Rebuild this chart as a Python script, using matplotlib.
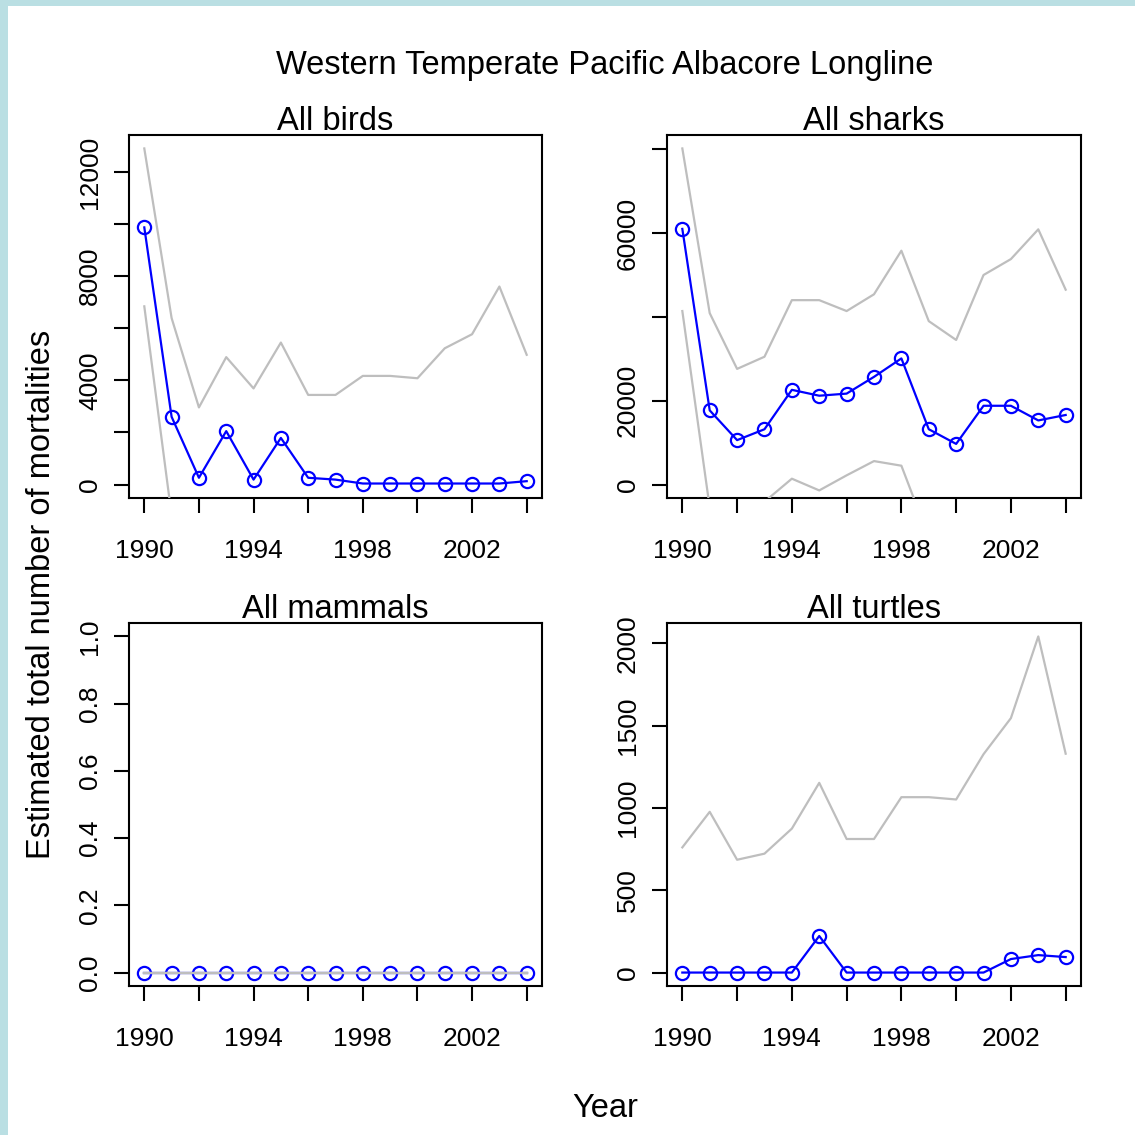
import numpy as np
import matplotlib
matplotlib.use("Agg")
import matplotlib.pyplot as plt
from matplotlib.patches import Rectangle

plt.rcParams['font.family'] = ['Liberation Sans', 'DejaVu Sans']

# ---- data ---------------------------------------------------------------
years = list(range(1990, 2005))

birds_est = [9870, 2600, 260, 2050, 190, 1790, 260, 190, 40, 40, 40, 40, 40, 40, 130]
birds_upper = [12900, 6390, 2960, 4890, 3690, 5450, 3440, 3440, 4170, 4170, 4080, 5230, 5770, 7600, 4980]
birds_lower = [6840, -1190, -2440, -790, -3310, -1870, -2920, -3060, -4090, -4090, -4000, -5150, -5690, -7520, -4720]

sharks_est = [61000, 17700, 10600, 13200, 22600, 21200, 21700, 25700, 30100, 13200, 9700, 18800, 18800, 15300, 16600]
sharks_upper = [80200, 40900, 27600, 30500, 44000, 44000, 41400, 45400, 55800, 39000, 34500, 50000, 53800, 60900, 46500]
sharks_lower = [41400, -5500, -6400, -4100, 1400, -1400, 2200, 5600, 4500, -12600, -15100, -12400, -16200, -30300, -13300]

mammals_est = [0] * 15
mammals_upper = [0] * 15
mammals_lower = [0] * 15

turtles_est = [0, 0, 0, 0, 0, 222, 0, 0, 0, 0, 0, 0, 82, 106, 94]
turtles_upper = [760, 976, 685, 722, 874, 1152, 811, 811, 1065, 1065, 1051, 1326, 1545, 2041, 1329]
turtles_lower = [-760, -976, -685, -722, -874, -708, -811, -811, -1065, -1065, -1051, -1326, -1381, -1829, -1141]

panel_titles = ["All birds", "All sharks", "All mammals", "All turtles"]

x_ticks = list(range(1990, 2005, 2))
x_labels = ["1990", "", "1994", "", "1998", "", "2002", ""]

birds_yticks = [0, 2000, 4000, 6000, 8000, 10000, 12000]
birds_ylabels = ["0", "", "4000", "", "8000", "", "12000"]
sharks_yticks = [0, 20000, 40000, 60000, 80000]
sharks_ylabels = ["0", "20000", "", "60000", ""]
mammals_yticks = [0.0, 0.2, 0.4, 0.6, 0.8, 1.0]
mammals_ylabels = ["0.0", "0.2", "0.4", "0.6", "0.8", "1.0"]
turtles_yticks = [0, 500, 1000, 1500, 2000]
turtles_ylabels = ["0", "500", "1000", "1500", "2000"]

main_title = "Western Temperate Pacific Albacore Longline"
x_title = "Year"
y_title = "Estimated total number of mortalities"

# ---- figure -------------------------------------------------------------
W = H = 1135
fig = plt.figure(figsize=(W / 100, H / 100), dpi=100)
fig.patch.set_facecolor("#BADFE3")
fig.patches.append(Rectangle((8 / W, 0), 1 - 8 / W, 1 - 6 / H,
                             transform=fig.transFigure, facecolor="white",
                             edgecolor="none", zorder=-10))


def px_axes(left, top, right, bottom):
    ax = fig.add_axes([left / W, 1 - bottom / H, (right - left) / W, (bottom - top) / H])
    ax.set_zorder(1)
    return ax


boxes = [(129, 135, 542, 498), (667, 135, 1081, 498),
         (129, 623, 542, 986), (667, 623, 1081, 986)]

series = [(birds_est, birds_upper, birds_lower, birds_yticks, birds_ylabels),
          (sharks_est, sharks_upper, sharks_lower, sharks_yticks, sharks_ylabels),
          (mammals_est, mammals_upper, mammals_lower, mammals_yticks, mammals_ylabels),
          (turtles_est, turtles_upper, turtles_lower, turtles_yticks, turtles_ylabels)]

tick_fs = 19
title_fs = 23.5

for box, title, (est, up, lo, yt, yl) in zip(boxes, panel_titles, series):
    ax = px_axes(*box)
    ax.plot(years, est, color="#0000FF", lw=1.6, marker="o", ms=9.5,
            mfc="none", mec="#0000FF", mew=1.6, zorder=2)
    ax.plot(years, up, color="#BEBEBE", lw=1.6, zorder=3)
    ax.plot(years, lo, color="#BEBEBE", lw=1.6, zorder=3)

    # y range runs from zero to the top of the upper band, padded by 4%
    ymin, ymax = min(0, min(est)), max(up)
    if ymax == ymin:
        ymax = ymin + 1
    span = ymax - ymin
    ax.set_ylim(ymin - 0.04 * span, ymax + 0.04 * span)
    xspan = years[-1] - years[0]
    ax.set_xlim(years[0] - 0.04 * xspan, years[-1] + 0.04 * xspan)

    ax.set_xticks(x_ticks)
    ax.set_xticklabels(x_labels)
    ax.set_yticks(yt)
    ax.set_yticklabels(yl, rotation=90, va="center")
    ax.tick_params(axis="both", direction="out", length=10.5, width=1.5,
                   labelsize=tick_fs, colors="black")
    ax.tick_params(axis="x", pad=19)
    ax.tick_params(axis="y", pad=9)
    for s in ax.spines.values():
        s.set_linewidth(1.5)
        s.set_color("black")
    ax.set_facecolor("none")
    ax.text(0.5, 1 + 5 / (box[3] - box[1]), title, transform=ax.transAxes,
            ha="center", va="baseline", fontsize=title_fs)

fig.text(605 / W, 1 - 74 / H, main_title, ha="center", va="baseline", fontsize=title_fs)
fig.text(605 / W, 1 - 1117 / H, x_title, ha="center", va="baseline", fontsize=title_fs)
fig.text(50 / W, 1 - 594 / H, y_title, ha="center", va="baseline", rotation=90,
         fontsize=title_fs, rotation_mode="anchor")

fig.savefig("out.png", dpi=100, facecolor=fig.get_facecolor())
